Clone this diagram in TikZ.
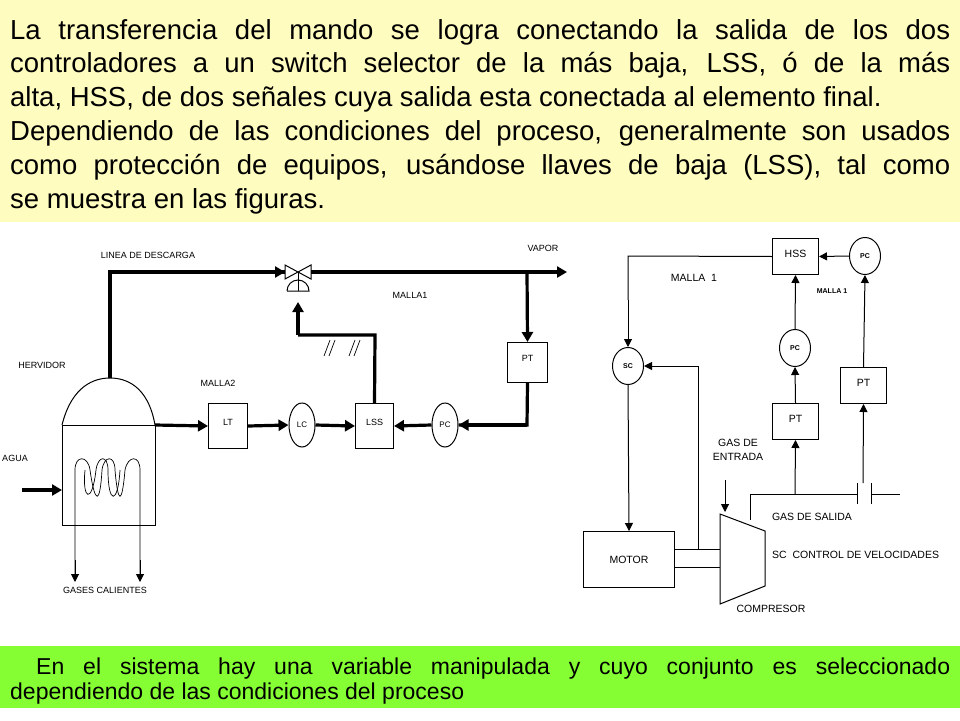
\documentclass[tikz,border=0pt]{standalone}
\usepackage{fontspec}
\setmainfont{Liberation Sans}
\usetikzlibrary{arrows.meta,shapes.geometric}
\begin{document}
\begin{tikzpicture}[x=1pt,y=-1pt,
 thick line/.style={line width=3.2pt,-{Triangle[length=10pt,width=11pt]}},
 thk/.style={line width=3.2pt},
 thin line/.style={line width=1pt,-{Triangle[length=8pt,width=8pt]}},
 box/.style={draw,line width=1pt,inner sep=0pt,minimum width=#1},
 ell/.style={draw,ellipse,line width=1pt,inner sep=0pt,minimum width=26pt,minimum height=44pt,font=\fontsize{8}{9}\selectfont},
 cir/.style={draw,ellipse,line width=1pt,inner sep=0pt,minimum width=31pt,minimum height=37pt,font=\fontsize{7}{8}\selectfont\bfseries},
 lbl/.style={font=\fontsize{9}{10}\selectfont,inner sep=0pt},
 rlbl/.style={font=\fontsize{10.5}{14}\selectfont,inner sep=0pt,align=center}]
\useasboundingbox (0,0) rectangle (960,720);
\fill[white] (0,0) rectangle (960,720);
\fill[yellow!25!white] (0,0) rectangle (960,222);
\fill[green!60!yellow!80!white] (0,646) rectangle (960,708);
\node[anchor=north west,inner sep=0pt,text width=940pt,align=justify,font=\fontsize{27.5}{33.8}\selectfont] (top) at (10,19)
{La transferencia del mando se logra conectando la salida de los dos\linebreak controladores a un switch selector de la más baja, LSS, ó de la más\linebreak alta, HSS, de dos señales cuya salida esta conectada al elemento final.\\
Dependiendo de las condiciones del proceso, generalmente son usados\linebreak como protección de equipos, usándose llaves de baja (LSS), tal como\linebreak se muestra en las figuras.};
\node[anchor=north west,inner sep=0pt,text width=940pt,align=justify,font=\fontsize{23}{25}\selectfont] (bot) at (10,658)
{\hspace*{26pt}En el sistema hay una variable manipulada y cuyo conjunto es seleccionado\linebreak dependiendo de las condiciones del proceso};
% ---------- left diagram
\draw[line width=1pt] (62,425) rectangle (155,525);
\draw[line width=1pt] (62,425) .. controls (72,385) and (95,378) .. (110,378) .. controls (125,378) and (148,385) .. (155,425);
\coordinate (dome) at (110,378);
\node[lbl] (herv) at (42,365) {HERVIDOR};
\node[lbl] (agua) at (15,458) {AGUA};
\coordinate (ain) at (22,490);
\draw[thick line] (ain) -- (62,490);
% coil
\draw[line width=0.7pt] (75,580) -- (75,470) .. controls (75,455) and (88,455) .. (90,470)
 .. controls (95,505) and (100,505) .. (102,470) .. controls (104,455) and (115,455) .. (115,470)
 .. controls (118,505) and (122,505) .. (125,470) .. controls (128,455) and (140,455) .. (140,470) -- (140,580);
\draw[line width=0.7pt] (85,470) .. controls (82,500) and (92,505) .. (96,470) .. controls (98,455) and (108,455) .. (108,470)
 .. controls (108,505) and (118,505) .. (120,470);
\draw[thin line] (75,560) -- (75,582);
\draw[thin line] (140,560) -- (140,582);
\node[lbl] (gases) at (105,590) {GASES CALIENTES};
\node[lbl] (linea) at (148,255) {LINEA DE DESCARGA};
% valve
\coordinate (vc) at (298,272);
\draw[line width=1pt] (285,265) -- (311,279) -- (311,265) -- (285,279) -- cycle;
\draw[line width=1pt] (298,272) -- (298,291);
\draw[line width=1pt] (287,291) -- (309,291) arc (0:-180:11);
\coordinate (act) at (298,302);
\draw[thk] (dome) -- (110,272) -- (285,272);
\draw[thick line] (200,272) -- (285,272);
\draw[thick line] (311,272) -- (567,272);
\node[lbl] (vapor) at (543,248) {VAPOR};
\node[lbl] (malla1) at (410,295) {MALLA1};
\node[lbl] (malla2) at (218,383) {MALLA2};
\node[box=40pt,minimum height=40pt,lbl,anchor=north west] (pt) at (507,342) {\raisebox{8pt}{PT}};
\node[box=39pt,minimum height=45pt,lbl,anchor=north west] (lt) at (208,403) {\raisebox{8pt}{LT}};
\node[box=38pt,minimum height=45pt,lbl,anchor=north west] (lss) at (355,403) {\raisebox{8pt}{LSS}};
\node[ell] (lc) at (302,425) {LC};
\node[ell] (pc) at (445,425) {PC};
\draw[thick line] (527,272) -- (pt.north);
\draw[thick line] (155,425) -- (lt.west);
\draw[thick line] (lt.east) -- (lc.west);
\draw[thick line] (lc.east) -- (lss.west);
\draw[thick line] (pc.west) -- (lss.east);
\draw[thk] (pt.south) -- (527,425) -- (pc.east);
\draw[thick line] (527,425) -- (pc.east);
\draw[thk] (lss.north) -- (375,335) -- (298,335);
\draw[thick line] (298,335) -- (act);
\foreach \x in {327,332,352,357} \draw[line width=0.7pt] (\x-3,356) -- (\x+3,340);
% ---------- right diagram
\node[box=46pt,minimum height=36pt,rlbl,anchor=north west] (hss) at (772,238) {\raisebox{6pt}{HSS}};
\node[cir] (pc1) at (865,256) {PC};
\node[cir] (sc) at (628,366) {SC};
\node[cir] (pc2) at (795,348) {PC};
\node[box=46pt,minimum height=36pt,rlbl,anchor=north west] (pt2) at (772,403) {\raisebox{6pt}{PT}};
\node[box=46pt,minimum height=36pt,rlbl,anchor=north west] (pt3) at (840,367) {\raisebox{6pt}{PT}};
\node[box=91pt,minimum height=56pt,rlbl,anchor=north west] (motor) at (583,531) {MOTOR};
\draw[line width=1pt] (720,514) -- (765,531) -- (765,586) -- (720,604) -- cycle;
\draw[thin line] (pc1.west) -- (hss.east);
\draw[line width=1pt] (hss.west) -- (628,256) -- (628,300);
\draw[thin line] (628,300) -- (sc.north);
\draw[thin line] (sc.south) -- (motor.north);
\draw[line width=1pt] (674,549) -- (720,549) (674,567) -- (720,567);
\draw[line width=1pt] (698,549) -- (698,366) -- (670,366);
\draw[thin line] (670,366) -- (sc.east);
\draw[thin line] (pc2.north) -- (hss.south);
\draw[thin line] (pt2.north) -- (pc2.south);
\draw[thin line] (pt3.north) -- (pc1.south);
\draw[line width=1pt] (750,520) -- (750,494) -- (857,494) (871,494) -- (900,494);
\draw[line width=1pt] (857,483) -- (857,504) (871,483) -- (871,504);
\draw[thin line] (795,494) -- (pt2.south);
\draw[thin line] (863,483) -- (pt3.south);
\coordinate (gin) at (725,480);
\draw[thin line] (gin) -- (725,512);
\node[rlbl] (gde) at (738,450) {GAS DE\\ENTRADA};
\node[rlbl] (gds) at (812,517) {GAS DE SALIDA};
\node[rlbl,anchor=west] (scv) at (772,555) {SC\ \ CONTROL DE VELOCIDADES};
\node[rlbl] (comp) at (771,609) {COMPRESOR};
\node[rlbl] (m1) at (694,278) {MALLA\ \ 1};
\node[font=\fontsize{7}{8}\selectfont\bfseries,inner sep=0pt] (m1b) at (832,291) {MALLA 1};
\end{tikzpicture}
\end{document}
